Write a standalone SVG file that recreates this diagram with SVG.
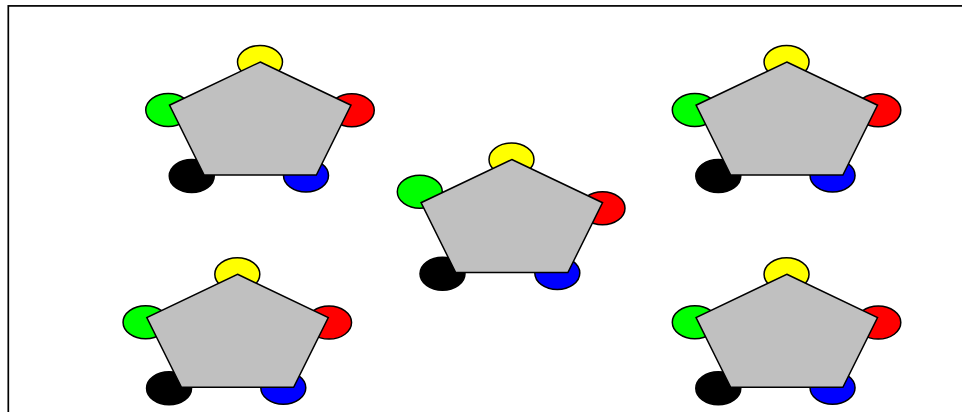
<svg xmlns="http://www.w3.org/2000/svg" width="962" height="412" viewBox="0 0 962 412">
<style>
.frame{fill:none;stroke:#000;stroke-width:1.7}
.body{fill:#c0c0c0;stroke:#000;stroke-width:1.5;stroke-linejoin:miter}
.dot{stroke:#000;stroke-width:1.5}
.y{fill:#ffff00}.g{fill:#00ff00}.r{fill:#ff0000}.k{fill:#000000}.b{fill:#0000ff}
</style>
<defs>
<polygon id="pent" class="body" points="0,0 90.75,43.2 56.1,113 -56.1,113 -90.75,43.2"/>
<g id="dotsA">
<ellipse class="dot y" cx="-0.25" cy="0" rx="22.5" ry="16.5"/>
<ellipse class="dot g" cx="-92" cy="48" rx="22.5" ry="16.5"/>
<ellipse class="dot r" cx="91.5" cy="48.3" rx="22.5" ry="16.5"/>
<ellipse class="dot k" cx="-68.5" cy="114" rx="22.5" ry="16.5"/>
<ellipse class="dot b" cx="45.75" cy="113.5" rx="22.5" ry="16.5"/>
</g>
</defs>
<rect class="frame" x="8.3" y="5.9" width="1000" height="500"/>
<g id="connectors"/>
<g id="node1" transform="translate(260.25,62)">
<use href="#dotsA"/>
<use href="#pent"/>
</g>
<g id="node2" transform="translate(511.8,159.5)">
<ellipse class="dot y" cx="-0.3" cy="0" rx="22.5" ry="16.5"/>
<ellipse class="dot g" cx="-92" cy="32.2" rx="22.5" ry="16.5"/>
<ellipse class="dot r" cx="90.7" cy="48.8" rx="22.5" ry="16.5"/>
<ellipse class="dot k" cx="-69.3" cy="114.2" rx="22.5" ry="16.5"/>
<ellipse class="dot b" cx="45.5" cy="113.5" rx="22.5" ry="16.5"/>
<use href="#pent"/>
</g>
<g id="node3" transform="translate(786.8,62)">
<use href="#dotsA"/>
<use href="#pent"/>
</g>
<g id="node4" transform="translate(237.55,274.3)">
<use href="#dotsA"/>
<use href="#pent"/>
</g>
<g id="node5" transform="translate(786.8,274.3)">
<use href="#dotsA"/>
<use href="#pent"/>
</g>
</svg>
